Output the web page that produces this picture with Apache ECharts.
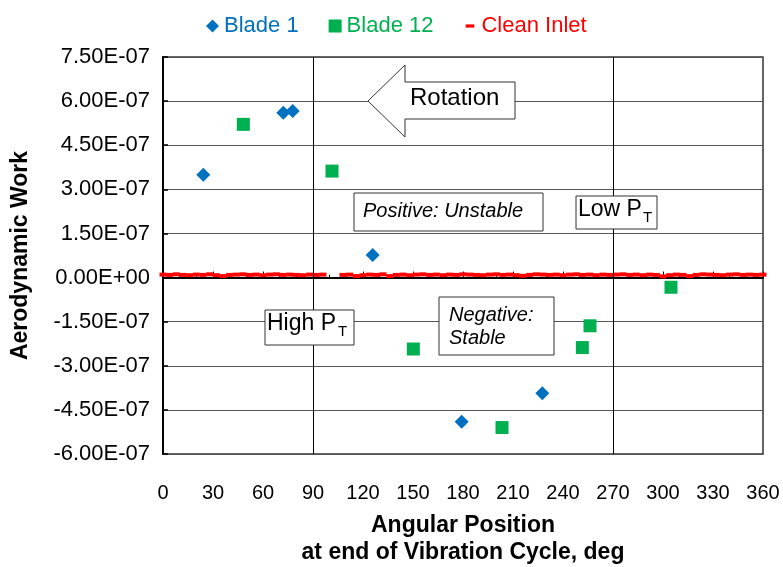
<!DOCTYPE html>
<html><head><meta charset="utf-8">
<script src="https://cdn.jsdelivr.net/npm/echarts@6/dist/echarts.min.js"></script>
<style>html,body{margin:0;padding:0;background:#fff}#c{width:783px;height:567px}</style>
</head><body><div id="c"></div>
<script>
// ---- data ----
const blade1Angle = [24.2, 72.2, 77.8, 125.8, 179.2, 227.6];
const blade1Work  = [3.50e-7, 5.60e-7, 5.66e-7, 0.77e-7, -4.90e-7, -3.93e-7];
const blade12Angle = [48.2, 101.4, 150.2, 203.4, 251.6, 256.2, 304.8];
const blade12Work  = [5.21e-7, 3.62e-7, -2.43e-7, -5.10e-7, -2.38e-7, -1.64e-7, -0.33e-7];
const cleanAngle = [0,4,8,12,16,20,24,28,32,36,40,44,48,52,56,60,64,68,72,76,80,84,88,92,96,
  108,112,116,120,124,128,132,136,140,144,148,152,156,160,164,168,172,176,180,184,188,192,196,200,
  204,208,212,216,220,224,228,232,236,240,244,248,252,256,260,264,268,272,276,280,284,288,292,296,
  300,304,308,312,316,320,324,328,332,336,340,344,348,352,356,360];
const cleanWork = [10e-9,9e-9,11e-9,9e-9,8e-9,10e-9,9e-9,11e-9,8e-9,5e-9,9e-9,10e-9,11e-9,9e-9,10e-9,8e-9,10e-9,11e-9,9e-9,10e-9,9e-9,8e-9,10e-9,9e-9,10e-9,
  9e-9,10e-9,5e-9,8e-9,10e-9,9e-9,11e-9,5e-9,9e-9,10e-9,8e-9,10e-9,11e-9,9e-9,10e-9,8e-9,10e-9,9e-9,11e-9,10e-9,9e-9,8e-9,10e-9,11e-9,
  9e-9,10e-9,8e-9,6e-9,9e-9,11e-9,10e-9,9e-9,10e-9,8e-9,10e-9,11e-9,9e-9,10e-9,8e-9,10e-9,9e-9,10e-9,11e-9,9e-9,10e-9,8e-9,10e-9,9e-9,
  4e-9,8e-9,10e-9,9e-9,5e-9,9e-9,11e-9,10e-9,9e-9,8e-9,10e-9,11e-9,9e-9,10e-9,9e-9,10e-9];
const seriesNames = ['Blade 1', 'Blade 12', 'Clean Inlet'];
const seriesColors = ['#0070C0', '#00B050', '#FF0000'];

function pairs(xs, ys){ return xs.map((x,i)=>[x, ys[i]]); }
function sci(v){
  if (Math.abs(v) < 1e-15) v = 0;
  const parts = v.toExponential(2).split('e');
  const n = parseInt(parts[1], 10);
  return parts[0] + 'E' + (n < 0 ? '-' : '+') + String(Math.abs(n)).padStart(2, '0');
}

const FONT = '"Liberation Sans", Arial, sans-serif';
const chart = echarts.init(document.getElementById('c'), null, {renderer:'canvas'});

const boxStyle = {fill:'#fff', stroke:'#333', lineWidth:1};
const txt = (x, y, text, size, italic) => ({
  type:'text', z:101, style:{x, y, text, fill:'#000', font:(italic?'italic ':'') + size + 'px ' + FONT,
  align:'left', verticalAlign:'middle'}
});

chart.setOption({
  animation:false,
  backgroundColor:'#fff',
  textStyle:{fontFamily:FONT},
  grid:{left:163, right:20, top:57, bottom:113, show:true, borderColor:'#333', borderWidth:1.5,
        backgroundColor:'transparent', outerBoundsMode:'none', containLabel:false},
  legend:{
    left:201, top:10, itemWidth:13, itemHeight:13, itemGap:30,
    textStyle:{fontSize:22, fontFamily:FONT},
    data:[
      {name:seriesNames[0], icon:'diamond', textStyle:{color:seriesColors[0]}},
      {name:seriesNames[1], icon:'rect', textStyle:{color:seriesColors[1]}},
      {name:seriesNames[2], icon:'path://M0,0M12,12M2,4.5H10V7.5H2Z', textStyle:{color:seriesColors[2]}}
    ]
  },
  xAxis:{
    type:'value', min:0, max:360, interval:30,
    axisLine:{show:true, lineStyle:{color:'#000', width:2}},
    axisTick:{show:true, inside:true, length:6, lineStyle:{color:'#000', width:1}},
    minorTick:{show:true, splitNumber:3, length:3, lineStyle:{color:'#000', width:1}},
    splitLine:{show:false},
    axisLabel:{fontSize:20, color:'#000', margin:29, fontFamily:FONT},
    name:'Angular Position\nat end of Vibration Cycle, deg',
    nameLocation:'middle', nameGap:58,
    nameTextStyle:{fontSize:23, fontWeight:'bold', color:'#000', lineHeight:27, fontFamily:FONT}
  },
  yAxis:{
    type:'value', min:-6e-7, max:7.5e-7, interval:1.5e-7,
    axisLine:{show:true, lineStyle:{color:'#000', width:2}},
    axisTick:{show:true, inside:true, length:5, lineStyle:{color:'#000', width:1.5}},
    splitLine:{show:true, lineStyle:{color:'#555', width:1.2}},
    axisLabel:{fontSize:22, color:'#000', margin:13, formatter:sci, fontFamily:FONT},
    name:'Aerodynamic Work', nameLocation:'middle', nameGap:131, nameRotate:90,
    nameTextStyle:{fontSize:23, fontWeight:'bold', color:'#000', fontFamily:FONT}
  },
  series:[
    {name:seriesNames[0], type:'scatter', symbol:'diamond', symbolSize:14, z:5,
     itemStyle:{color:seriesColors[0], opacity:1}, data:pairs(blade1Angle, blade1Work),
     markLine:{silent:true, symbol:['none','none'], label:{show:false},
       lineStyle:{color:'#000', width:1, type:'solid'}, data:[{xAxis:90},{xAxis:270}]}},
    {name:seriesNames[1], type:'scatter', symbol:'rect', symbolSize:13, z:5,
     itemStyle:{color:seriesColors[1], opacity:1}, data:pairs(blade12Angle, blade12Work)},
    {name:seriesNames[2], type:'scatter', symbol:'rect', symbolSize:[7,4], z:4,
     itemStyle:{color:seriesColors[2], opacity:1}, data:pairs(cleanAngle, cleanWork)}
  ],
  graphic:[
    {type:'polygon', z:100, shape:{points:[[368,101],[405,65],[405,82],[515,82],[515,119],[405,119],[405,137]]}, style:boxStyle},
    txt(410, 98, 'Rotation', 24, false),
    {type:'rect', z:100, shape:{x:354, y:193, width:189, height:38}, style:boxStyle},
    txt(363, 211, 'Positive: Unstable', 20, true),
    {type:'rect', z:100, shape:{x:576, y:196, width:81, height:33}, style:boxStyle},
    txt(578, 210, 'Low P', 23, false),
    txt(643, 218, 'T', 15, false),
    {type:'rect', z:100, shape:{x:265, y:310, width:89, height:35}, style:boxStyle},
    txt(267, 324, 'High P', 23, false),
    txt(338, 332, 'T', 15, false),
    {type:'rect', z:100, shape:{x:439, y:297, width:115, height:58}, style:boxStyle},
    txt(449, 315, 'Negative:', 20, true),
    txt(449, 338, 'Stable', 20, true)
  ]
});
</script></body></html>
